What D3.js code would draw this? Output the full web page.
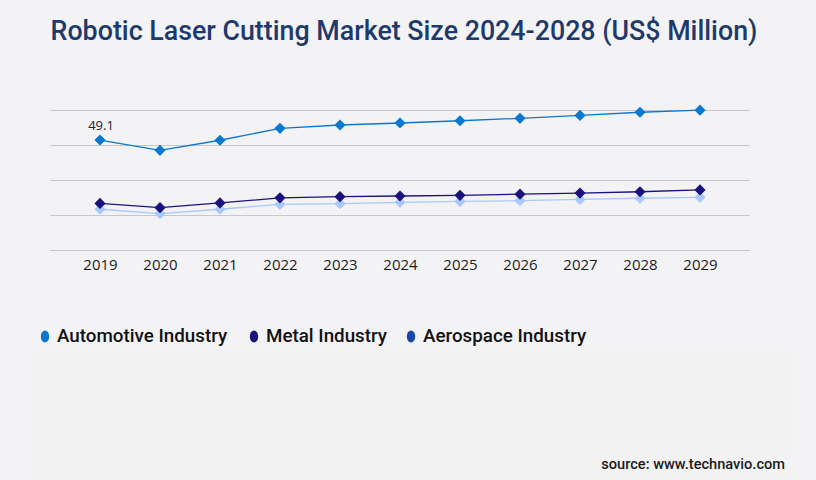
<!DOCTYPE html>
<html>
<head>
<meta charset="utf-8">
<script src="https://cdn.jsdelivr.net/npm/d3@7"></script>
<style>
  body { margin: 0; background: #f3f3f6; }
  svg { display: block; }
</style>
</head>
<body>
<script>
// chart values
var years = ["2019", "2020", "2021", "2022", "2023", "2024", "2025", "2026", "2027", "2028", "2029"];
var automotive = [49.1, 44.5, 49.0, 54.3, 55.8, 56.7, 57.7, 58.8, 60.1, 61.5, 62.4];
var metal = [20.8, 18.9, 21.0, 23.3, 23.8, 24.1, 24.4, 24.9, 25.4, 26.0, 26.8];
var aerospace = [18.2, 16.2, 18.2, 20.4, 20.7, 21.3, 21.7, 22.0, 22.6, 23.1, 23.5];
var seriesNames = ["Automotive Industry", "Metal Industry", "Aerospace Industry"];

var width = 816;
var height = 480;

var series = [
  { name: seriesNames[0], values: automotive, line: "#0a78cf", legend: "#0a78cf" },
  { name: seriesNames[1], values: metal, line: "#1b127e", legend: "#1b127e" },
  { name: seriesNames[2], values: aerospace, line: "#a9c9fc", legend: "#1a48a8" }
];

var svg = d3.select("body").append("svg").attr("width", width).attr("height", height);

svg.append("rect").attr("width", width).attr("height", height).attr("fill", "#f3f3f6");
// faint lower panel
svg.append("rect")
  .attr("x", 32).attr("y", 350).attr("width", 758).attr("height", 130)
  .attr("fill", "#f2f2f3");

svg.append("text")
  .attr("x", 404)
  .attr("y", 40)
  .attr("text-anchor", "middle")
  .attr("font-family", "Roboto")
  .attr("font-weight", 500)
  .attr("font-size", "26.8px")
  .attr("fill", "#1e3a6b")
  .text("Robotic Laser Cutting Market Size 2024-2028 (US$ Million)");

var x = d3.scalePoint().domain(years).range([100, 700]);
var yMax = 62.5;
var y = d3.scaleLinear().domain([0, yMax]).range([250, 110]);

// gridlines
svg.append("g")
  .selectAll("line")
  .data(d3.range(5).map(function (i) { return yMax * i / 4; }))
  .enter()
  .append("line")
  .attr("x1", 50)
  .attr("x2", 750)
  .attr("y1", function (d) { return Math.round(y(d)) + 0.5; })
  .attr("y2", function (d) { return Math.round(y(d)) + 0.5; })
  .attr("stroke", "#c8c8ca")
  .attr("stroke-width", 1);

// x labels
var xAxis = svg.append("g")
  .attr("transform", "translate(0,255)")
  .call(d3.axisBottom(x).tickSize(0).tickPadding(0));
xAxis.select(".domain").remove();
xAxis.selectAll("text")
  .attr("dy", "15px")
  .attr("font-family", "Open Sans")
  .attr("font-size", "15px")
  .attr("fill", "#1a1a1a");

var line = d3.line()
  .x(function (d, i) { return x(years[i]); })
  .y(function (d) { return y(d); });

var diamond = d3.symbol().type(d3.symbolDiamond2).size(80);

// draw back to front so automotive is on top
series.slice().reverse().forEach(function (s) {
  svg.append("path")
    .datum(s.values)
    .attr("d", line)
    .attr("fill", "none")
    .attr("stroke", s.line)
    .attr("stroke-width", 1.3);
  svg.append("g")
    .selectAll("path")
    .data(s.values)
    .enter()
    .append("path")
    .attr("d", diamond)
    .attr("transform", function (d, i) { return "translate(" + x(years[i]) + "," + y(d) + ")"; })
    .attr("fill", s.line);
});

svg.append("text")
  .attr("x", x(years[0]) + 1)
  .attr("y", y(automotive[0]) - 10)
  .attr("text-anchor", "middle")
  .attr("font-family", "Open Sans")
  .attr("font-size", "13px")
  .attr("fill", "#222")
  .text(automotive[0]);

// legend
var legendX = [45, 254, 411];
var legend = svg.append("g")
  .selectAll("g")
  .data(series)
  .enter()
  .append("g")
  .attr("transform", function (d, i) { return "translate(" + legendX[i] + ",336.5)"; });
legend.append("ellipse")
  .attr("rx", 4.2)
  .attr("ry", 6)
  .attr("fill", function (d) { return d.legend; });
legend.append("text")
  .attr("x", 12)
  .attr("y", 5)
  .attr("font-family", "Roboto")
  .attr("font-weight", 500)
  .attr("font-size", "18.8px")
  .attr("fill", "#111")
  .text(function (d) { return d.name; });

svg.append("text")
  .attr("x", 785)
  .attr("y", 469)
  .attr("text-anchor", "end")
  .attr("font-family", "Roboto")
  .attr("font-weight", 500)
  .attr("font-size", "14.6px")
  .attr("fill", "#1a1a1a")
  .text("source: www.technavio.com");
</script>
</body>
</html>
